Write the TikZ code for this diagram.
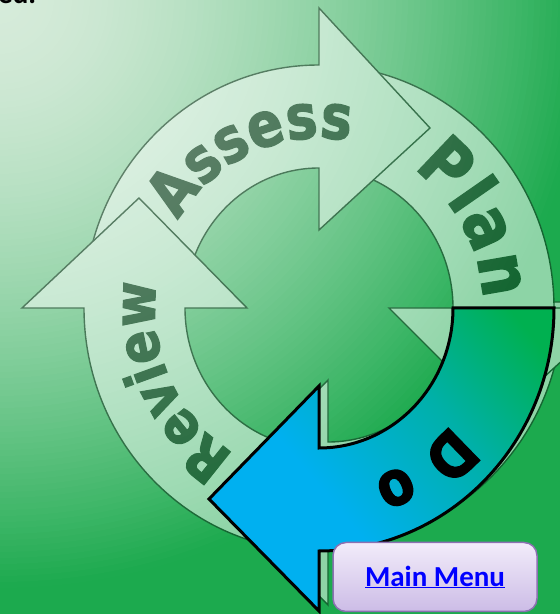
\documentclass[tikz,border=0pt]{standalone}
\usepackage{fontspec}
\setmainfont{Carlito}
\newfontfamily\cyclefont{DejaVu Sans Bold}[FakeBold=2, FakeStretch=0.85]
\usepackage{xcolor}
\usetikzlibrary{decorations.text}

\definecolor{bglight}{RGB}{214,235,218}
\definecolor{bgdark}{RGB}{28,170,78}
\definecolor{cycleink}{RGB}{14,36,22}
\definecolor{doblue}{RGB}{0,176,240}
\definecolor{dogreen}{RGB}{0,176,80}
\definecolor{menutop}{RGB}{242,236,250}
\definecolor{menubottom}{RGB}{204,188,230}
\definecolor{menuline}{RGB}{140,112,178}
\definecolor{linkblue}{RGB}{0,0,255}

\pgfdeclarehorizontalshading{doshade}{100bp}{color(0bp)=(doblue); color(40bp)=(doblue);
  color(62bp)=(dogreen!45!doblue); color(80bp)=(dogreen); color(100bp)=(dogreen)}

\newcommand\assessfont{\cyclefont\fontsize{62}{66}\selectfont}
\newcommand\reviewfont{\cyclefont\fontsize{58}{62}\selectfont}
\newcommand\planfont{\cyclefont\fontsize{70}{74}\selectfont}
\newcommand\dofont{\cyclefont\fontsize{62}{66}\selectfont}

\tikzset{
  cyclearrow/.style={fill=white, draw=cycleink, line width=1.4pt, line join=miter},
  doarrow/.style={shade, shading=doshade, shading angle=40,
    draw=black, line width=3pt, line join=miter},
  cycleword/.style={decorate, decoration={text along path, text align={fit to path},
    text color=cycleink, text={#1}}},
  menubutton/.style={rounded corners=13pt, top color=menutop, bottom color=menubottom,
    draw=menuline, line width=1.5pt, minimum width=204pt, minimum height=69pt,
    text=linkblue, font=\fontsize{29}{34}\selectfont\bfseries}
}

\begin{document}
\begin{tikzpicture}[x=1pt,y=1pt]
  \useasboundingbox (0,0) rectangle (560,614);
  \clip (0,0) rectangle (560,614);
  \coordinate (C) at (319,306);

  % Background
  \foreach \r in {840,834,...,6}{
    \pgfmathsetmacro\p{100*min(1,(\r/590)^1.6)}
    \fill[bgdark!\p!bglight] (0,614) circle (\r pt);
  }

  % Cut-off text at the top
  \node[anchor=base west, inner sep=0pt, font=\fontsize{29}{34}\selectfont\bfseries] (cut) at (-2,610) {ed.};

  % Cycle of arrows, half see-through
  \begin{scope}[transparency group, opacity=0.5]
    % Do (behind the highlight)
    \draw[cyclearrow, shift={(9pt,6pt)}] (554,306) arc[start angle=0, end angle=-90, x radius=235pt, y radius=243pt]
      -- (319,3) -- (209,115) -- (319,228) -- (319,166)
      arc[start angle=-90, end angle=0, x radius=134pt, y radius=140pt] -- cycle;
    % Plan
    \draw[cyclearrow] (319,549) arc[start angle=90, end angle=0, x radius=235pt, y radius=243pt]
      -- (620,306) -- (499,196) -- (389,306) -- (453,306)
      arc[start angle=0, end angle=90, x radius=134pt, y radius=140pt] -- cycle;
    % Assess
    \draw[cyclearrow] (84,306) arc[start angle=180, end angle=90, x radius=235pt, y radius=243pt]
      -- (319,606) -- (430,486) -- (319,384) -- (319,446)
      arc[start angle=90, end angle=180, x radius=134pt, y radius=140pt] -- cycle;
    % Review
    \draw[cyclearrow] (319,63) arc[start angle=270, end angle=180, x radius=235pt, y radius=243pt]
      -- (22,306) -- (139,416) -- (247,306) -- (185,306)
      arc[start angle=180, end angle=270, x radius=134pt, y radius=140pt] -- cycle;

    % Words on the arrows
    \path[cycleword={|\assessfont|Assess}] ([shift={(C)}]149:164pt and 170pt)
      arc[start angle=149, end angle=80, x radius=164pt, y radius=170pt];
    \path[cycleword={|\planfont|Plan}] ([shift={(C)}]55:164pt and 170pt)
      arc[start angle=55, end angle=3, x radius=164pt, y radius=170pt];
    \path[cycleword={|\reviewfont|Review}] ([shift={(C)}]239:164pt and 170pt)
      arc[start angle=239, end angle=176, x radius=164pt, y radius=170pt];
  \end{scope}

  % Do, picked out
  \draw[doarrow] (554,306) arc[start angle=0, end angle=-90, x radius=235pt, y radius=243pt]
    -- (319,3) -- (209,115) -- (319,228) -- (319,166)
    arc[start angle=-90, end angle=0, x radius=134pt, y radius=140pt] -- cycle;
  \path[decorate, decoration={text along path, text align={fit to path}, text color=black,
    text={|\dofont|Do}}] ([shift={(C)}]-40:172pt and 180pt)
    arc[start angle=-40, end angle=-72, x radius=172pt, y radius=180pt];

  % Menu button
  \node[menubutton] (menu) at (435,37) {\underline{Main Menu}};
\end{tikzpicture}
\end{document}
